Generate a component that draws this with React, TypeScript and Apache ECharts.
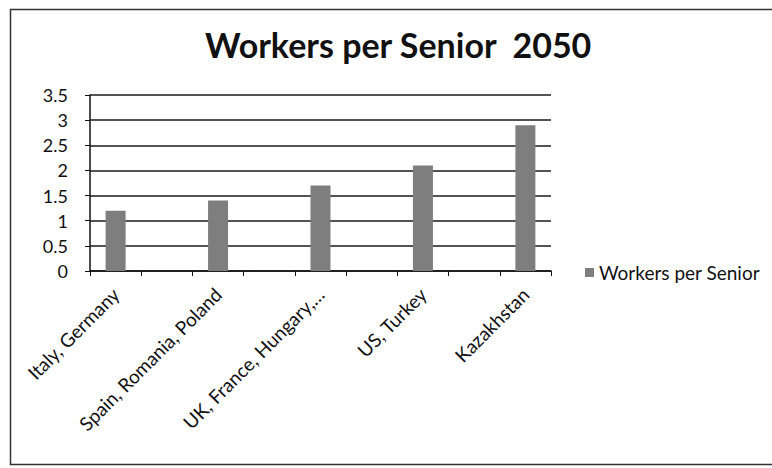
import React, { useEffect, useRef } from "react";
import * as echarts from "echarts";

const categories = [
  "Italy, Germany",
  "",
  "Spain, Romania, Poland",
  "",
  "UK, France, Hungary,…",
  "",
  "US, Turkey",
  "",
  "Kazakhstan",
];
const workersPerSenior = [1.2, null, 1.4, null, 1.7, null, 2.1, null, 2.9];
const seriesName = "Workers per Senior";
const titleText = "Workers per Senior  2050";
const yMin = 0;
const yMax = 3.5;
const yStep = 0.5;

const FONT = "Lato, 'Open Sans', sans-serif";

export default function App() {
  const ref = useRef<HTMLDivElement>(null);
  useEffect(() => {
    if (!ref.current) return;
    const chart = echarts.init(ref.current, null, { renderer: "svg" });
    chart.setOption({
      animation: false,
      backgroundColor: "#ffffff",
      textStyle: { fontFamily: FONT },
      title: {
        text: titleText,
        left: 200,
        top: 22,
        textStyle: { fontFamily: FONT, fontSize: 34, fontWeight: "bold", color: "#111" },
      },
      legend: {
        data: [seriesName],
        left: 580,
        top: 258,
        icon: "rect",
        itemWidth: 9,
        itemHeight: 9,
        itemGap: 6,
        textStyle: { fontFamily: FONT, fontSize: 19, color: "#111" },
      },
      grid: { left: 90, right: 221, top: 95, bottom: 197, containLabel: false },
      xAxis: {
        type: "category",
        data: categories,
        boundaryGap: true,
        axisLine: { lineStyle: { color: "#111", width: 1.5 } },
        axisTick: { show: true, interval: 0, length: 5, lineStyle: { color: "#111" } },
        axisLabel: {
          interval: 0,
          rotate: 45,
          margin: 20,
          fontFamily: FONT,
          fontSize: 19,
          color: "#111",
        },
      },
      yAxis: {
        type: "value",
        min: yMin,
        max: yMax,
        interval: yStep,
        axisLine: { show: true, lineStyle: { color: "#111", width: 1.5 } },
        axisTick: { show: true, length: 5, lineStyle: { color: "#111" } },
        axisLabel: { margin: 22, fontFamily: FONT, fontSize: 18, color: "#111" },
        splitLine: { show: true, lineStyle: { color: "#1a1a1a", width: 1.6 } },
      },
      series: [
        {
          name: seriesName,
          type: "bar",
          data: workersPerSenior,
          barWidth: 20,
          itemStyle: { color: "#7e7e7e" },
        },
      ],
      graphic: [
        {
          type: "rect",
          left: 8,
          top: 7,
          shape: { width: 800, height: 455 },
          style: { fill: "none", stroke: "#333", lineWidth: 1.5 },
          silent: true,
        },
      ],
    });
    return () => chart.dispose();
  }, []);
  return (
    <div
      ref={ref}
      style={{ position: "fixed", left: 0, top: 0, width: 772, height: 468 }}
    />
  );
}
